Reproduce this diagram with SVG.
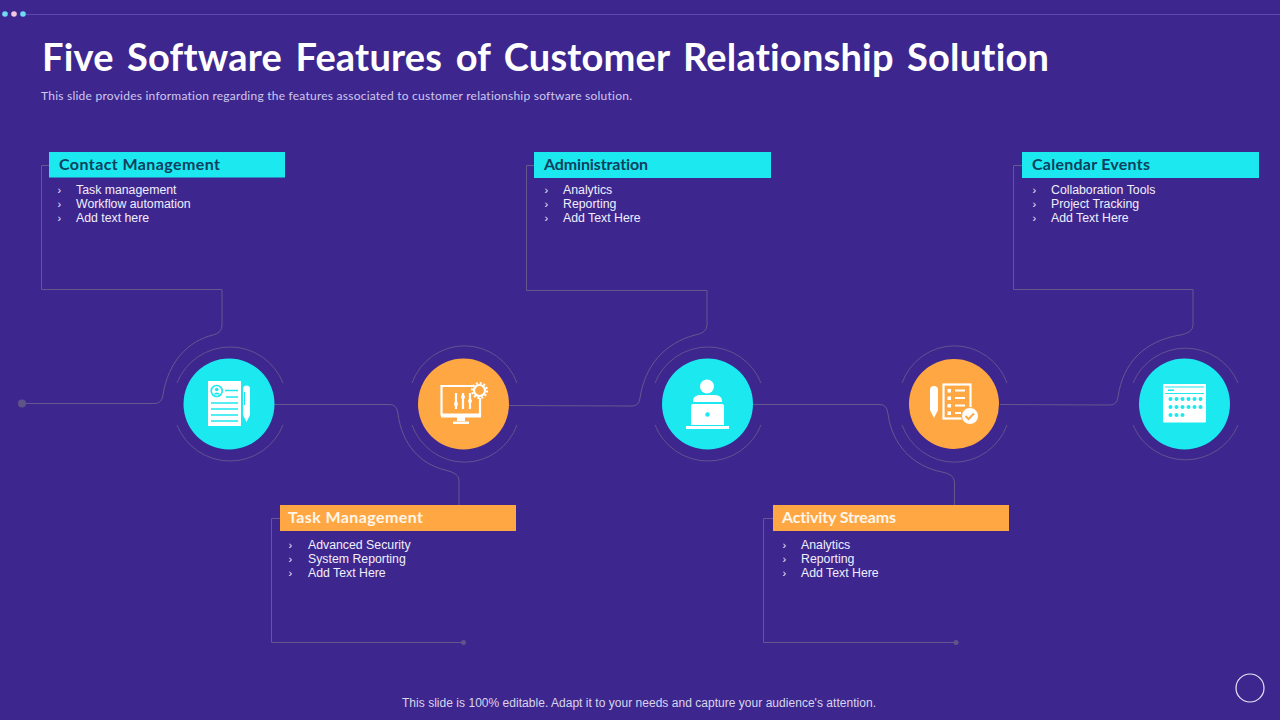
<svg xmlns="http://www.w3.org/2000/svg" width="1280" height="720" viewBox="0 0 1280 720">
<style>
text{font-variant-ligatures:none}
.wire{fill:none;stroke:#66578f;stroke-width:1}
.ring{fill:none;stroke:#66578f;stroke-width:.9}
.hd{font-family:"Lato","Liberation Sans",sans-serif;font-weight:700;font-size:16px}
.li{font-family:"Liberation Sans",Arial,sans-serif;font-size:12.300px;fill:#f1eefb}
.bu{font-family:"Liberation Sans",Arial,sans-serif;font-size:11px;fill:#f1eefb}
.cy{fill:#1ce8f0}.or{fill:#ffa843}.wh{fill:#fff}
.dk{fill:#0f3f5e}.lt{fill:#fff6ea}
.ci{stroke:#1ce8f0;stroke-width:1.6;fill:none}
.oi{stroke:#ffa843;stroke-width:1.6;fill:none}
.ws{stroke:#fff;stroke-width:2.2;fill:none}
</style>
<rect width="1280" height="720" fill="#3d278f"/>
<g id="top-decor">
<line x1="26" y1="14.500" x2="1280" y2="14.500" stroke="#5b49ad" stroke-width="1"/>
<circle cx="5" cy="14" r="2.800" fill="#6fdcf5"/><circle cx="14" cy="14" r="2.800" fill="#f2c9dc"/><circle cx="23" cy="14" r="2.800" fill="#6fdcf5"/>
</g>
<text x="42" y="71" font-family="Lato,'Liberation Sans',sans-serif" font-weight="700" font-size="38" fill="#fff" word-spacing="4" textLength="1007" lengthAdjust="spacing">Five Software Features of Customer Relationship Solution</text>
<text x="41" y="100" font-family="Lato,'Open Sans',sans-serif" font-size="12" fill="#cfc8ee" textLength="591" lengthAdjust="spacing">This slide provides information regarding the features associated to customer relationship software solution.</text>
<g id="connectors">
<path class="wire" d="M22 403.500H155Q162 403 163 395C168 362 188 341 213 335Q222 333 222 325V289.500H41.500V165.500H49"/>
<path class="wire" d="M274 404.500H390Q397 404.500 398 414C402 444 420 464 445 470Q459 473 459 480V505"/>
<path class="wire" d="M509 405.500L632 406Q639 406 640 398C645 365 665 343 695 335Q707 333 707 325V290.500H526.500V165.500H534"/>
<path class="wire" d="M753 404.500H880Q887 404.500 888 414C892 444 912 466 942 472Q954 474 954.500 482V505"/>
<path class="wire" d="M1000 404.500L1110 405Q1117 405 1118 397C1123 362 1145 341 1180 335Q1193 333 1193 325V289.500H1013.500V165.500H1022"/>
<path class="wire" d="M280 518.500H271.500V642.500H463"/>
<path class="wire" d="M773 518.500H763.500V642.500H956"/>
<circle cx="22" cy="403.500" r="4" fill="#5f5488"/>
<circle cx="463.500" cy="642.500" r="2.500" fill="#5f5488"/>
<circle cx="956" cy="642.500" r="2.500" fill="#5f5488"/>
</g>
<g id="node-contact">
<path class="ring" d="M177 383A57 57 0 0 1 283 383M177 425A57 57 0 0 0 283 425"/>
<circle cx="229" cy="404" r="45.500" class="cy"/>
<rect x="208" y="381" width="33" height="45" class="wh"/>
<circle cx="216.700" cy="391" r="5.500" class="ci"/><circle cx="216.700" cy="389.500" r="1.800" fill="#1ce8f0"/><path d="M213.500 394.500a3.500 3 0 0 1 6.500 0z" fill="#1ce8f0"/>
<path class="ci" d="M225 390.500H238M226 397H238M211 403H238M211 409H238M211 415H238M211 421H238"/>
<path class="wh" d="M243 389a3.500 3.500 0 0 1 7 0V415L246.500 422L243 415z"/>
<path d="M244.500 392V405" stroke="#1ce8f0" stroke-width="1"/>
<rect x="49" y="152" width="236" height="25.500" class="cy"/>
<text x="59" y="170" class="hd dk" textLength="161">Contact Management</text>
<text class="bu"><tspan x="57.500" y="194">›</tspan><tspan x="57.500" y="208">›</tspan><tspan x="57.500" y="222">›</tspan></text>
<text class="li"><tspan x="76" y="194">Task management</tspan><tspan x="76" y="208">Workflow automation</tspan><tspan x="76" y="222">Add text here</tspan></text>
</g>
<g id="node-task">
<path class="ring" d="M412 383A56 57 0 0 1 517 383M412 425A56 57 0 0 0 517 425"/>
<circle cx="463.500" cy="404" r="45.500" class="or"/>
<path class="ws" d="M474 386H441.500V414.500H480V398" stroke-width="3"/>
<path d="M441 414h40v3.500h-40zM457 417h8v4h-8zM453 421.500h16v2.500h-16z" class="wh"/>
<path class="ws" d="M456 393V409M463 393V409M470 393V409" stroke-width="1.600"/>
<circle cx="456" cy="404" r="2" class="wh"/><circle cx="463" cy="397" r="2" class="wh"/><circle cx="470" cy="401" r="2" class="wh"/>
<circle cx="479.500" cy="390.500" r="5.500" class="ws" stroke-width="2.500"/>
<circle cx="479.500" cy="390.500" r="7.500" fill="none" stroke="#fff" stroke-width="2" stroke-dasharray="2 1.930"/>
<rect x="280" y="505" width="236" height="26" class="or"/>
<text x="288" y="523" class="hd lt" textLength="135">Task Management</text>
<text class="bu"><tspan x="288.500" y="549">›</tspan><tspan x="288.500" y="563">›</tspan><tspan x="288.500" y="577">›</tspan></text>
<text class="li"><tspan x="308" y="549">Advanced Security</tspan><tspan x="308" y="563">System Reporting</tspan><tspan x="308" y="577">Add Text Here</tspan></text>
</g>
<g id="node-admin">
<path class="ring" d="M655 383A57 57 0 0 1 761 383M655 425A57 57 0 0 0 761 425"/>
<circle cx="707.500" cy="404" r="45.500" class="cy"/>
<circle cx="707" cy="386.500" r="7" class="wh"/>
<path class="wh" d="M693 402V400Q694 395 701 395H714Q721 395 722 400V402z"/>
<path class="wh" d="M691 406Q691 404 693 404H722Q724 404 724 406V425H691z"/>
<rect x="686" y="426" width="43" height="3" class="wh"/>
<circle cx="707.500" cy="414.500" r="2.200" fill="#1ce8f0"/>
<rect x="534" y="152" width="237" height="26" class="cy"/>
<text x="544" y="170" class="hd dk" textLength="104">Administration</text>
<text class="bu"><tspan x="544.500" y="194">›</tspan><tspan x="544.500" y="208">›</tspan><tspan x="544.500" y="222">›</tspan></text>
<text class="li"><tspan x="563" y="194">Analytics</tspan><tspan x="563" y="208">Reporting</tspan><tspan x="563" y="222">Add Text Here</tspan></text>
</g>
<g id="node-activity">
<path class="ring" d="M902 383A56 57 0 0 1 1007 383M902 425A56 57 0 0 0 1007 425"/>
<circle cx="954" cy="404" r="45" class="or"/>
<path class="wh" d="M930 390a4 4 0 0 1 8 0V410L934 418L930 410z"/>
<rect x="943.500" y="384.500" width="27" height="34" class="ws"/>
<path class="ws" d="M955 390.500H965M955 398H965M955 405.500H965M955 413H961" stroke-width="1.600"/>
<path d="M947.500 389h3.500v3.500h-3.500zM947.500 396.500h3.500v3.500h-3.500zM947.500 404h3.500v3.500h-3.500zM947.500 411.500h3.500v3.500h-3.500z" class="wh"/>
<circle cx="970" cy="416" r="8.500" class="wh" stroke="#ffa843" stroke-width="1"/>
<path d="M965.500 416l3 3 5.500-5.500" stroke="#ffa843" stroke-width="2" fill="none"/>
<rect x="773" y="505" width="236" height="26" class="or"/>
<text x="782" y="523" class="hd lt" textLength="114">Activity Streams</text>
<text class="bu"><tspan x="782.500" y="549">›</tspan><tspan x="782.500" y="563">›</tspan><tspan x="782.500" y="577">›</tspan></text>
<text class="li"><tspan x="801" y="549">Analytics</tspan><tspan x="801" y="563">Reporting</tspan><tspan x="801" y="577">Add Text Here</tspan></text>
</g>
<g id="node-calendar">
<path class="ring" d="M1133 383A57 57 0 0 1 1238 383M1133 425A57 57 0 0 0 1238 425"/>
<circle cx="1184.500" cy="404" r="45.500" class="cy"/>
<rect x="1163" y="384" width="43" height="38.500" rx="1" class="wh"/>
<rect x="1165" y="386.500" width="39" height="1" fill="#1ce8f0"/>
<rect x="1165" y="393" width="39" height="1" fill="#1ce8f0"/>
<rect x="1168" y="389.500" width="6" height="1.500" fill="#1ce8f0"/>
<g fill="#1ce8f0"><circle cx="1170.500" cy="399" r="2"/><circle cx="1176.500" cy="399" r="2"/><circle cx="1182.500" cy="399" r="2"/><circle cx="1188.500" cy="399" r="2"/><circle cx="1194.500" cy="399" r="2"/><circle cx="1200.500" cy="399" r="2"/><circle cx="1170.500" cy="407" r="2"/><circle cx="1176.500" cy="407" r="2"/><circle cx="1182.500" cy="407" r="2"/><circle cx="1188.500" cy="407" r="2"/><circle cx="1194.500" cy="407" r="2"/><circle cx="1200.500" cy="407" r="2"/><circle cx="1170.500" cy="415" r="2"/><circle cx="1176.500" cy="415" r="2"/><circle cx="1182.500" cy="415" r="2"/></g>
<rect x="1022" y="152" width="237" height="26" class="cy"/>
<text x="1032" y="170" class="hd dk" textLength="118">Calendar Events</text>
<text class="bu"><tspan x="1032.500" y="194">›</tspan><tspan x="1032.500" y="208">›</tspan><tspan x="1032.500" y="222">›</tspan></text>
<text class="li"><tspan x="1051" y="194">Collaboration Tools</tspan><tspan x="1051" y="208">Project Tracking</tspan><tspan x="1051" y="222">Add Text Here</tspan></text>
</g>
<text x="402" y="707" font-family="'Liberation Sans',Arial,sans-serif" font-size="12" fill="#d9d5ec" textLength="474">This slide is 100% editable. Adapt it to your needs and capture your audience's attention.</text>
<circle cx="1250" cy="688" r="14" fill="none" stroke="#e8e6f5" stroke-width="1.200"/>
</svg>
